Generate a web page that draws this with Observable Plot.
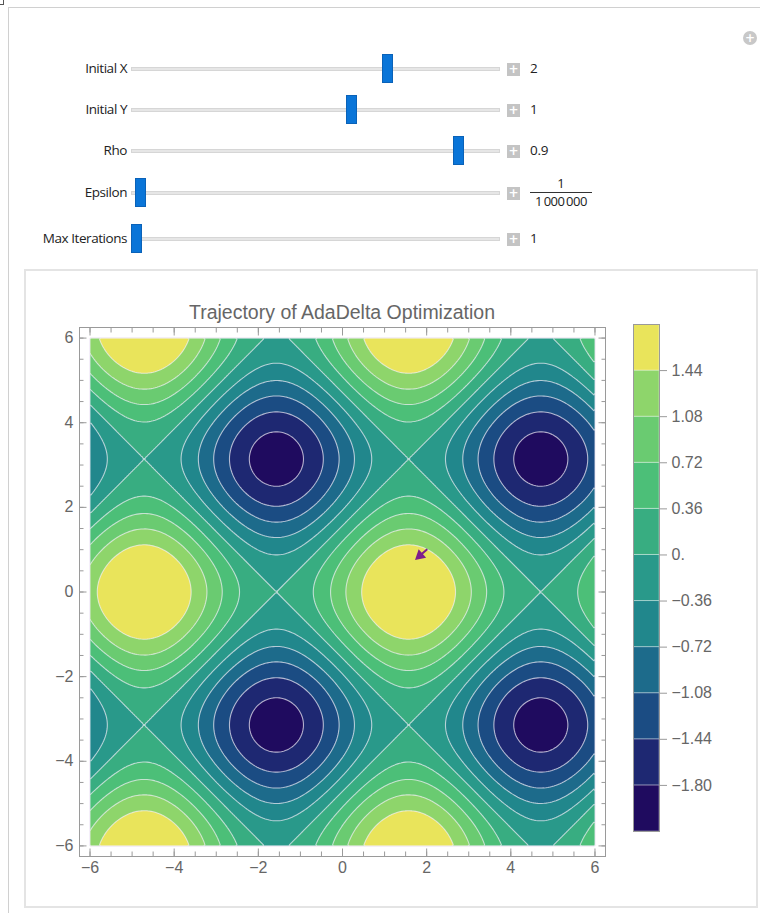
<!DOCTYPE html>
<html>
<head>
<meta charset="utf-8">
<script src="https://cdn.jsdelivr.net/npm/d3@7"></script>
<script src="https://cdn.jsdelivr.net/npm/@observablehq/plot@0.6"></script>
<style>
  body { margin: 0; background: #fff; }
  #page { position: relative; width: 760px; height: 913px; overflow: hidden; background: #fff;
          font-family: "Open Sans", "Noto Sans", sans-serif; }
  .outer { position: absolute; left: 8px; top: 7px; width: 900px; height: 1000px;
           border-left: 1px solid #d0d0d0; border-top: 1px solid #d0d0d0; }
  .bracket { position: absolute; left: 0; top: 0; width: 3px; height: 4px;
             border-right: 1px solid #555; border-bottom: 1px solid #555; }
  .box { position: absolute; left: 24px; top: 269px; width: 734px; height: 639px;
         box-sizing: border-box; border: 2px solid #e4e4e4; }
  .lab { position: absolute; left: 0; width: 127px; text-align: right; font-size: 13.5px;
         line-height: 18px; color: #222; letter-spacing: -0.45px; }
  .track { position: absolute; left: 131px; width: 369px; height: 4px; box-sizing: border-box;
           background: #e6e6e6; border: 1px solid #d6d6d6; }
  .thumb { position: absolute; width: 11px; height: 29px; box-sizing: border-box;
           background: #0a75d8; border: 1px solid #0a62b8; }
  .plus { position: absolute; left: 507px; width: 13px; height: 13px; background: #c4c4c4;
          color: #fff; font: bold 12px/13px "DejaVu Sans", sans-serif; text-align: center; }
  .val { position: absolute; left: 530px; font-size: 13.5px; line-height: 18px; color: #222; letter-spacing: -0.3px; }
  .frac { position: absolute; left: 530px; width: 62px; text-align: center; font-size: 13px; color: #222; }
  .frac .num { line-height: 15px; }
  .frac .bar { height: 1px; background: #333; margin: 1px 0 1px 0; }
  .frac .den { line-height: 15px; letter-spacing: -0.5px; }
  .circ { position: absolute; left: 743px; top: 31px; width: 14px; height: 14px; border-radius: 50%;
          background: #c8c8c8; color: #fff; font: bold 12px/14px "DejaVu Sans", sans-serif; text-align: center; }
  .title { position: absolute; left: 79px; width: 526px; top: 300px; text-align: center;
           font-family: "Liberation Sans", Arial, sans-serif; font-size: 19.5px; line-height: 24px; color: #666; }
  #mainplot { position: absolute; left: 0; top: 317px; }
  #legendplot { position: absolute; left: 600px; top: 314px; }
</style>
</head>
<body>
<div id="page">
  <div class="bracket"></div>
  <div class="outer"></div>
  <div class="circ">+</div>
  <div class="box"></div>
  <div id="controls"></div>
  <div class="title" id="title"></div>
  <div id="mainplot"></div>
  <div id="legendplot"></div>
</div>
<script>
// ---------- data ----------
const sliderLabels = ["Initial X", "Initial Y", "Rho", "Epsilon", "Max Iterations"];
const sliderValues = [2, 1, 0.9, 1e-6, 1];
const sliderMins = [-5, -5, 0, 1e-8, 1];
const sliderMaxs = [5, 5, 1, 1e-4, 100];
const sliderDisplay = ["2", "1", "0.9", null, "1"];
const epsilonNumerator = "1";
const epsilonDenominator = "1\u2009000\u2009000";

const titleText = "Trajectory of AdaDelta Optimization";
// the plotted surface f(x, y) = sin(x) + cos(y) on [-6, 6] x [-6, 6]
const surface = (x, y) => Math.sin(x) + Math.cos(y);
const surfaceX = [-6, 6];
const surfaceY = [-6, 6];
const contourThresholds = [-1.80, -1.44, -1.08, -0.72, -0.36, 0, 0.36, 0.72, 1.08, 1.44];
const bandColors = ["#1f0b5f", "#1e2872", "#1b4c83", "#1d6b8b", "#21878c", "#29998a",
                    "#38ad81", "#4cbf78", "#6acb71", "#8ed56b", "#e9e45b"];
const xTicks = [-6, -4, -2, 0, 2, 4, 6];
const yTicks = [-6, -4, -2, 0, 2, 4, 6];
const trajectoryX = [2, 1.84];
const trajectoryY = [1, 0.86];

// ---------- controls (HTML) ----------
const rowCenters = [69, 110, 151, 193, 239];
const controls = document.getElementById("controls");
sliderLabels.forEach((lab, i) => {
  const cy = rowCenters[i];
  const add = (cls, css, html) => {
    const d = document.createElement("div");
    d.className = cls; d.style.cssText = css; if (html != null) d.innerHTML = html;
    controls.appendChild(d); return d;
  };
  add("lab", `top:${cy - 10}px`, lab);
  add("track", `top:${cy - 2}px`);
  const t = (sliderValues[i] - sliderMins[i]) / (sliderMaxs[i] - sliderMins[i]);
  const cx = 131 + 5.5 + t * (369 - 11);
  add("thumb", `left:${cx - 5.5}px;top:${cy - 15}px`);
  add("plus", `top:${cy - 6}px`, "+");
  if (sliderDisplay[i] != null) {
    add("val", `top:${cy - 10}px`, sliderDisplay[i]);
  } else {
    add("frac", `top:${cy - 17}px`,
      `<div class="num">${epsilonNumerator}</div><div class="bar"></div><div class="den">${epsilonDenominator}</div>`);
  }
});
document.getElementById("title").textContent = titleText;

// ---------- main contour plot ----------
const step = contourThresholds[1] - contourThresholds[0];
const lowest = contourThresholds[0] - step;
const colorScale = {type: "threshold", domain: contourThresholds, range: bandColors};
const traj = trajectoryX.map((x, i) => ({x, y: trajectoryY[i]}));
const last = traj[traj.length - 1], prev = traj[traj.length - 2];
const headAngle = Math.atan2(last.x - prev.x, last.y - prev.y) * 180 / Math.PI;
const minorTicks = d3.range(-6, 6.001, 0.5);
const pad = 0.25;
const frameCol = "#9a9a9a";
const purple = "#7e1e8d";
const noText = () => "";

const main = Plot.plot({
  width: 620, height: 579,
  marginLeft: 79, marginRight: 15, marginTop: 10, marginBottom: 40,
  x: {domain: [surfaceX[0] - pad, surfaceX[1] + pad], label: null},
  y: {domain: [surfaceY[0] - pad, surfaceY[1] + pad], label: null},
  color: colorScale,
  style: {fontFamily: "Liberation Sans, Arial, sans-serif", fontSize: "16px", color: "#666", background: "transparent"},
  marks: [
    Plot.contour({fill: surface, x1: surfaceX[0], x2: surfaceX[1], y1: surfaceY[0], y2: surfaceY[1],
                  thresholds: [lowest, ...contourThresholds],
                  stroke: "#f4f0f8", strokeOpacity: 0.7, strokeWidth: 1.1}),
    Plot.frame({stroke: frameCol}),
    // labels
    Plot.axisX({anchor: "bottom", ticks: xTicks, tickSize: 0, tickPadding: 5, fill: "#666", label: null}),
    Plot.axisY({anchor: "left", ticks: yTicks, tickSize: 0, tickPadding: 6, fill: "#666", label: null}),
    // inward ticks on all sides
    Plot.axisX({anchor: "bottom", ticks: xTicks, tickSize: -7.5, tickFormat: noText, stroke: frameCol, label: null}),
    Plot.axisX({anchor: "bottom", ticks: minorTicks, tickSize: -4.5, tickFormat: noText, stroke: frameCol, label: null}),
    Plot.axisX({anchor: "top", ticks: xTicks, tickSize: -7.5, tickFormat: noText, stroke: frameCol, label: null}),
    Plot.axisX({anchor: "top", ticks: minorTicks, tickSize: -4.5, tickFormat: noText, stroke: frameCol, label: null}),
    Plot.axisY({anchor: "left", ticks: yTicks, tickSize: -7.5, tickFormat: noText, stroke: frameCol, label: null}),
    Plot.axisY({anchor: "left", ticks: minorTicks, tickSize: -4.5, tickFormat: noText, stroke: frameCol, label: null}),
    Plot.axisY({anchor: "right", ticks: yTicks, tickSize: -7.5, tickFormat: noText, stroke: frameCol, label: null}),
    Plot.axisY({anchor: "right", ticks: minorTicks, tickSize: -4.5, tickFormat: noText, stroke: frameCol, label: null}),
    // trajectory
    Plot.line(traj, {x: "x", y: "y", stroke: purple, strokeWidth: 2}),
    Plot.dot([last], {x: "x", y: "y", symbol: "triangle", r: 4.2, fill: purple, rotate: headAngle})
  ]
});
document.getElementById("mainplot").appendChild(main);

// ---------- colour bar ----------
const bands = d3.range(contourThresholds.length + 1).map(i => ({
  lo: i === 0 ? lowest : contourThresholds[i - 1],
  hi: i === contourThresholds.length ? contourThresholds[i - 1] + step : contourThresholds[i]
}));
const legendFormat = v => v === 0 ? "0." : d3.format(".2f")(v).replace("-", "\u2212");
const legend = Plot.plot({
  width: 150, height: 527,
  marginLeft: 33, marginRight: 91, marginTop: 10, marginBottom: 10,
  y: {domain: [bands[0].lo, bands[bands.length - 1].hi], label: null},
  color: colorScale,
  style: {fontFamily: "Liberation Sans, Arial, sans-serif", fontSize: "16px", color: "#666", background: "transparent"},
  marks: [
    Plot.rect(bands, {y1: "lo", y2: "hi", fill: "lo", stroke: "white", strokeOpacity: 0.35}),
    Plot.frame({stroke: frameCol}),
    Plot.axisY({anchor: "right", ticks: contourThresholds, tickSize: 7, tickPadding: 5,
                tickFormat: legendFormat, stroke: frameCol, fill: "#666", label: null})
  ]
});
document.getElementById("legendplot").appendChild(legend);
</script>
</body>
</html>
